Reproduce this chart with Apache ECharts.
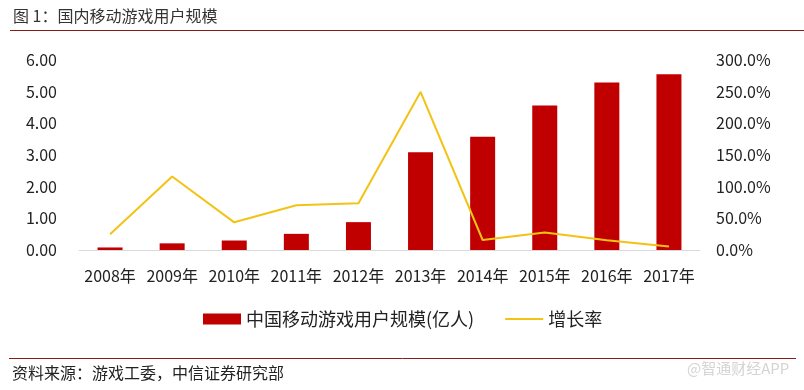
<!DOCTYPE html>
<html><head><meta charset="utf-8">
<script src="https://cdn.jsdelivr.net/npm/echarts@6/dist/echarts.min.js"></script>
<style>html,body{margin:0;padding:0;background:#fff}#c{width:804px;height:390px}</style>
</head><body><div id="c"></div>
<script>
var categories = ['2008年','2009年','2010年','2011年','2012年','2013年','2014年','2015年','2016年','2017年'];
var users = [0.08, 0.21, 0.30, 0.51, 0.88, 3.09, 3.58, 4.56, 5.29, 5.55];
var growth = [24.8, 116, 43.7, 70.6, 73.7, 249.6, 15.8, 27.5, 15.3, 5.4];
var leftTicks = [0, 1, 2, 3, 4, 5, 6];
var rightTicks = [0, 50, 100, 150, 200, 250, 300];

var FONT = '"Noto Sans CJK SC", sans-serif';
var chart = echarts.init(document.getElementById('c'));
chart.setOption({
  animation: false,
  textStyle: {fontFamily: FONT},
  grid: {left: 79, right: 104, top: 60, bottom: 140},
  legend: {
    top: 310, left: 203, itemGap: 31, itemWidth: 38, itemHeight: 11, padding: 0,
    textStyle: {fontSize: 18, color: '#222', fontFamily: FONT},
    data: [
      {name: '中国移动游戏用户规模(亿人)', icon: 'rect'},
      {name: '增长率', icon: 'path://M0,0M38,11M0,4.5L38,4.5L38,6.5L0,6.5Z'}
    ]
  },
  xAxis: {
    type: 'category', data: categories,
    axisLine: {lineStyle: {color: '#D9D9D9', width: 1}},
    axisTick: {show: false},
    axisLabel: {color: '#222', fontSize: 16, margin: 18, interval: 0, fontFamily: FONT}
  },
  yAxis: [{
    type: 'value', min: leftTicks[0], max: leftTicks[leftTicks.length - 1], interval: 1,
    splitLine: {show: false}, axisLine: {show: false}, axisTick: {show: false},
    axisLabel: {color: '#222', fontSize: 16, margin: 22, fontFamily: FONT,
      formatter: function (v) { return v.toFixed(2); }}
  }, {
    type: 'value', min: rightTicks[0], max: rightTicks[rightTicks.length - 1], interval: 50,
    splitLine: {show: false}, axisLine: {show: false}, axisTick: {show: false},
    axisLabel: {color: '#222', fontSize: 16, margin: 16, fontFamily: FONT,
      formatter: function (v) { return v.toFixed(1) + '%'; }}
  }],
  series: [{
    name: '中国移动游戏用户规模(亿人)', type: 'bar', data: users, barWidth: 25,
    itemStyle: {color: '#C00000'}
  }, {
    name: '增长率', type: 'line', yAxisIndex: 1, data: growth,
    symbol: 'none', lineStyle: {color: '#F2C314', width: 2}, itemStyle: {color: '#F2C314'}
  }],
  graphic: [
    {type: 'text', left: 13, top: 8, style: {text: '图 1：国内移动游戏用户规模', font: '16px ' + FONT, fill: '#333'}},
    {type: 'line', shape: {x1: 10, y1: 30.5, x2: 804, y2: 30.5}, style: {stroke: '#8B1A1A', lineWidth: 1}},
    {type: 'line', shape: {x1: 9, y1: 358.5, x2: 796, y2: 358.5}, style: {stroke: '#8B1A1A', lineWidth: 1}},
    {type: 'text', left: 12, top: 365, style: {text: '资料来源：游戏工委，中信证券研究部', font: '16px ' + FONT, fill: '#222'}},
    {type: 'text', left: 687, top: 361, style: {text: '@智通财经APP', font: '15px ' + FONT, fill: '#D4D4D4'}}
  ]
});
</script></body></html>
